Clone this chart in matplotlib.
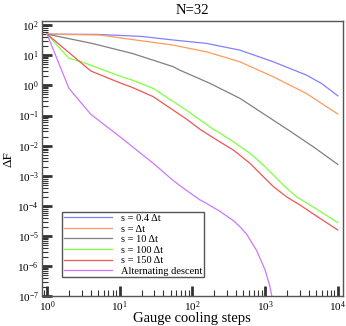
import numpy as np
import matplotlib
matplotlib.use("Agg")
import matplotlib.pyplot as plt
from matplotlib.ticker import LogLocator, NullFormatter

plt.rcParams['font.family'] = ['Liberation Serif', 'DejaVu Serif']
plt.rcParams['mathtext.fontset'] = 'custom'
plt.rcParams['mathtext.rm'] = 'Liberation Serif'
plt.rcParams['mathtext.it'] = 'Liberation Serif:italic'
plt.rcParams['axes.unicode_minus'] = False

# values (steps, delta F)
x_blue = [1, 5, 20, 54, 155, 447, 1285, 3690, 6000, 10000]
y_blue = [50, 49, 42, 32, 24.7, 14.8, 6.1, 2.2, 1.15, 0.45]

x_orange = [1, 5.4, 20, 54, 155, 447, 1285, 3690, 10000]
y_orange = [50, 46.6, 30, 21.7, 13, 6.1, 1.94, 0.54, 0.112]

x_gray = [1, 4.2, 14.8, 54, 67, 174, 452, 2090, 4570, 10000]
y_gray = [50, 24.5, 11.5, 4.2, 3.2, 1.17, 0.37, 0.033, 9.3e-3, 2.4e-3]

x_green = [1, 2, 3, 10, 14.8, 29, 83, 194, 240, 365, 620, 944, 1440, 1980,
           2720, 4150, 6320, 10000]
y_green = [50, 7.9, 6.0, 2.04, 1.5, 0.79, 0.15, 0.035, 0.026, 0.0136, 5.6e-3,
           2.3e-3, 8.3e-4, 3.9e-4, 2.0e-4, 1.08e-4, 5.7e-5, 2.8e-5]

x_red = [1, 4, 10, 14.8, 29, 83, 127, 216, 365, 620, 944, 1300, 1980, 3020,
         5120, 10000]
y_red = [50, 3.0, 1.22, 0.86, 0.42, 0.076, 0.035, 0.0155, 7.2e-3, 2.6e-3,
         9.4e-4, 4.4e-4, 2.0e-4, 1.08e-4, 4.6e-5, 1.6e-5]

x_purple = [1, 2, 3, 4, 10, 29, 54, 75, 127, 155, 240, 365, 447, 557, 766,
            1000, 1160, 1230, 1320]
y_purple = [50, 0.8, 0.25, 0.11, 0.02, 2.6e-3, 7.1e-4, 3.9e-4, 1.6e-4,
            1.23e-4, 6.6e-5, 3.3e-5, 2.1e-5, 1.17e-5, 3.3e-6, 7.6e-7,
            2.2e-7, 1.1e-7, 5e-8]

labels = ['s = 0.4 \u0394t', 's = \u0394t', 's = 10 \u0394t', 's = 100 \u0394t',
          's = 150 \u0394t', 'Alternating descent']
colors = ['#8080ff', '#ff9a5a', '#808080', '#80ff40', '#f05555', '#cc77ff']

fig = plt.figure(figsize=(3.46, 3.26), dpi=100)
ax = fig.add_axes([0.120, 0.0905, 0.8714, 0.845])

series = [(x_blue, y_blue), (x_orange, y_orange), (x_gray, y_gray),
          (x_green, y_green), (x_red, y_red), (x_purple, y_purple)]
for (xs, ys), lab, c in zip(series, labels, colors):
    ax.plot(xs, ys, color=c, lw=0.9, label=lab)

ax.set_xscale('log')
ax.set_yscale('log')
ax.set_xlim(0.84, 11800)
ax.set_ylim(1e-7, 136)

ax.xaxis.set_major_locator(LogLocator(base=10, numticks=10))
ax.yaxis.set_major_locator(LogLocator(base=10, numticks=12))
ax.xaxis.set_minor_locator(LogLocator(base=10, subs=np.arange(2, 10), numticks=20))
ax.yaxis.set_minor_locator(LogLocator(base=10, subs=np.arange(2, 10), numticks=20))
ax.xaxis.set_minor_formatter(NullFormatter())
ax.yaxis.set_minor_formatter(NullFormatter())

ax.tick_params(which='major', direction='in', length=7, width=2, color='#333333',
               labelsize=8, pad=2, top=False, right=False)
ax.tick_params(which='minor', direction='in', length=4, width=0.8, color='#333333',
               top=False, right=False)

for sp in ax.spines.values():
    sp.set_color('#555555')
    sp.set_linewidth(1.0)

ax.set_title('N=32', fontsize=10.5, pad=5)
ax.set_xlabel('Gauge cooling steps', fontsize=10.5, labelpad=-1)
ax.set_ylabel('\u0394F', fontsize=9.5, labelpad=2)

leg = ax.legend(loc='lower left', bbox_to_anchor=(0.069, 0.0697), borderaxespad=0,
                fontsize=7.5, handlelength=4.6, handletextpad=0.85, labelspacing=0.12,
                borderpad=0.15, fancybox=False, framealpha=1)
leg.get_frame().set_edgecolor('#555555')
leg.get_frame().set_linewidth(1.0)

fig.savefig('out.png', dpi=100)
